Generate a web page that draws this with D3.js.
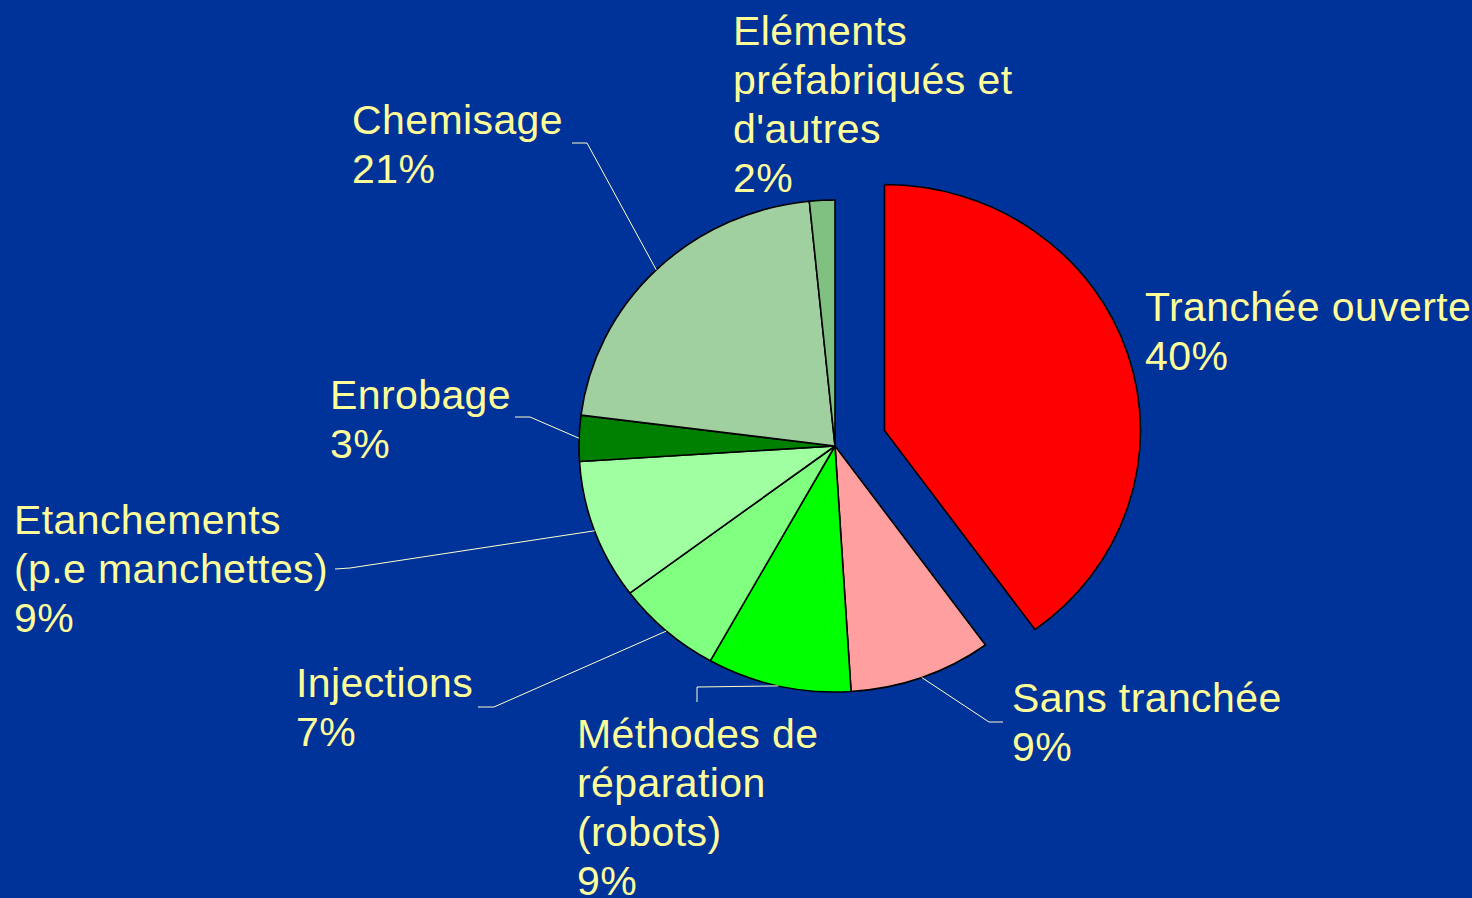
<!DOCTYPE html>
<html>
<head>
<meta charset="utf-8">
<script src="https://cdn.jsdelivr.net/npm/d3@7"></script>
<style>
  html, body { margin: 0; padding: 0; background: #003399; }
  svg { display: block; }
</style>
</head>
<body>
<svg id="chart"></svg>
<script>
// slices, clockwise from 12 o'clock
const categories = [
  'Tranchée ouverte',
  'Sans tranchée',
  'Méthodes de\nréparation\n(robots)',
  'Injections',
  'Etanchements\n(p.e manchettes)',
  'Enrobage',
  'Chemisage',
  'Eléments\npréfabriqués et\nd\'autres'
];
// shares (labels show them rounded)
const shares = [40, 9, 9.1, 6.7, 9.2, 3, 21.4, 1.6];
const sliceColors = ['#ff0000', '#ff9f9f', '#00ff00', '#80ff80', '#a0ffa0', '#008000', '#a0d0a0', '#80c080'];
const exploded = [true, false, false, false, false, false, false, false];

// label placement: x, first baseline, leader line start + elbow (label side)
const labelLayout = [
  { x: 1145, y: 321, leader: null },
  { x: 1012, y: 712, leader: [[1003, 722], [989, 722]] },
  { x: 577, y: 748, leader: [[697, 702], [697, 687]] },
  { x: 296, y: 697, leader: [[478, 707], [494, 707]] },
  { x: 14, y: 534, leader: [[335, 569], [350, 568]] },
  { x: 330, y: 409, leader: [[515, 417], [530, 417]] },
  { x: 352, y: 134, leader: [[572, 143], [587, 143]] },
  { x: 733, y: 45, leader: null }
];

// settings object
const config = {
  width: 1472,
  height: 898,
  pie: { cx: 835, cy: 446, rx: 256, ry: 246, explode: 50 },
  text: { size: 41, lineHeight: 49, spacing: 0.4, color: '#ffff99' },
};

const svg = d3.select('#chart')
  .attr('width', config.width)
  .attr('height', config.height);

svg.append('rect')
  .attr('width', config.width)
  .attr('height', config.height)
  .attr('fill', '#003399');

const pie = d3.pie().sort(null).value(d => d)(shares);
const arc = d3.arc().innerRadius(0).outerRadius(config.pie.ry);
const sx = config.pie.rx / config.pie.ry;

// pie drawn as circle, stretched horizontally to match the original
const pieGroup = svg.append('g')
  .attr('transform', `translate(${config.pie.cx}, ${config.pie.cy}) scale(${sx}, 1)`);

pieGroup.selectAll('path')
  .data(pie)
  .enter().append('path')
  .attr('d', arc)
  .attr('transform', (d, i) => {
    if (!exploded[i]) return null;
    const mid = (d.startAngle + d.endAngle) / 2;
    return `translate(${Math.sin(mid) * config.pie.explode}, ${-Math.cos(mid) * config.pie.explode})`;
  })
  .attr('fill', (d, i) => sliceColors[i])
  .attr('stroke', '#000')
  .attr('stroke-width', 1.6)
  .attr('stroke-linejoin', 'round')
  .attr('vector-effect', 'non-scaling-stroke');

// point on the outer edge at the middle of a slice
function edgePoint(d) {
  const mid = (d.startAngle + d.endAngle) / 2;
  return [config.pie.cx + config.pie.rx * Math.sin(mid), config.pie.cy - config.pie.ry * Math.cos(mid)];
}

// leader lines
pie.forEach((d, i) => {
  const lay = labelLayout[i];
  if (!lay.leader) return;
  const pts = lay.leader.concat([edgePoint(d)]);
  svg.append('path')
    .attr('d', d3.line()(pts))
    .attr('fill', 'none')
    .attr('stroke', '#ffffcc')
    .attr('stroke-width', 1);
});

// labels
const labels = svg.selectAll('.label')
  .data(pie)
  .enter().append('text')
  .attr('class', 'label')
  .attr('font-family', 'Liberation Sans, Arial, sans-serif')
  .attr('font-size', config.text.size)
  .attr('letter-spacing', config.text.spacing)
  .attr('fill', config.text.color);

labels.each(function (d, i) {
  const lines = categories[i].split('\n').concat([`${Math.round(shares[i])}%`]);
  const lay = labelLayout[i];
  d3.select(this).selectAll('tspan')
    .data(lines)
    .enter().append('tspan')
    .attr('x', lay.x)
    .attr('y', (t, j) => lay.y + j * config.text.lineHeight)
    .text(t => t);
});
</script>
</body>
</html>
